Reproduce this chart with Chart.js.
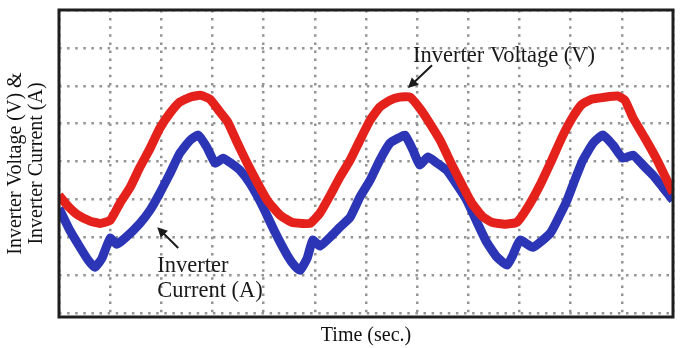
<!DOCTYPE html>
<html>
<head>
<meta charset="utf-8">
<script src="https://cdn.jsdelivr.net/npm/chart.js@4.4.1/dist/chart.umd.min.js"></script>
<style>
  html, body { margin: 0; padding: 0; background: #fff; }
  #wrap { width: 683px; height: 348px; }
</style>
</head>
<body>
<div id="wrap"><canvas id="scope"></canvas></div>
<script>
// time in grid divisions, amplitude in grid divisions
const voltageTime = [0, 0.18, 0.37, 0.61, 0.80, 1.00, 1.19, 1.39, 1.58, 1.78, 1.97, 2.17, 2.36, 2.56, 2.76, 2.95, 3.15, 3.30, 3.48, 3.67, 3.87, 4.08, 4.32, 4.55, 4.75, 4.91, 5.10, 5.30, 5.49, 5.69, 5.88, 6.08, 6.27, 6.47, 6.66, 6.86, 7.05, 7.21, 7.45, 7.68, 7.88, 8.07, 8.27, 8.46, 8.72, 8.95, 9.15, 9.40, 9.63, 9.83, 10.03, 10.22, 10.42, 10.67, 10.92, 11.06, 11.22, 11.45, 11.69, 11.88, 12.00];
const voltage = [3.11, 2.82, 2.59, 2.43, 2.37, 2.45, 2.90, 3.32, 3.85, 4.35, 4.88, 5.28, 5.57, 5.70, 5.75, 5.65, 5.30, 5.04, 4.51, 3.98, 3.46, 2.96, 2.59, 2.40, 2.37, 2.37, 2.64, 3.11, 3.59, 4.04, 4.56, 5.09, 5.44, 5.62, 5.70, 5.70, 5.41, 5.09, 4.56, 3.91, 3.38, 2.90, 2.56, 2.40, 2.35, 2.40, 2.77, 3.38, 4.04, 4.64, 5.15, 5.51, 5.65, 5.70, 5.73, 5.62, 5.15, 4.62, 4.04, 3.51, 3.17];

const currentTime = [0, 0.21, 0.41, 0.57, 0.70, 0.84, 1.00, 1.13, 1.29, 1.58, 1.78, 1.97, 2.17, 2.36, 2.56, 2.72, 2.89, 3.05, 3.21, 3.34, 3.54, 3.73, 3.97, 4.22, 4.46, 4.61, 4.71, 4.85, 4.96, 5.10, 5.34, 5.49, 5.69, 5.88, 6.08, 6.27, 6.47, 6.66, 6.76, 6.92, 7.05, 7.21, 7.39, 7.58, 7.78, 7.97, 8.17, 8.36, 8.56, 8.76, 8.87, 9.01, 9.26, 9.60, 9.79, 9.93, 10.08, 10.24, 10.44, 10.63, 10.83, 11.02, 11.22, 11.41, 11.61, 11.80, 12.00];
const current = [2.77, 2.19, 1.74, 1.40, 1.21, 1.45, 1.98, 1.82, 1.98, 2.37, 2.72, 3.17, 3.69, 4.22, 4.56, 4.70, 4.38, 3.96, 4.09, 3.98, 3.77, 3.43, 2.85, 2.14, 1.53, 1.24, 1.13, 1.45, 1.93, 1.77, 2.06, 2.27, 2.53, 3.06, 3.51, 4.04, 4.49, 4.64, 4.70, 4.30, 3.91, 4.12, 3.96, 3.77, 3.38, 2.98, 2.40, 1.87, 1.48, 1.27, 1.53, 1.93, 1.74, 2.11, 2.59, 2.98, 3.51, 4.04, 4.49, 4.70, 4.43, 4.09, 4.17, 3.91, 3.64, 3.32, 2.98];

const xDivisions = [0, 1, 2, 3, 4, 5, 6, 7, 8, 9, 10, 11, 12];
const yDivisions = [0, 1, 2, 3, 4, 5, 6, 7, 8];

// callouts in data units (text anchor = first line baseline, left aligned)
const callouts = [
  { lines: ['Inverter Voltage (V)'], tx: 6.92, ty: 6.62, tail: [7.29, 6.54], tip: [6.82, 5.94] },
  { lines: ['Inverter', 'Current (A)'], tx: 1.92, ty: 1.08, tail: [2.33, 1.72], tip: [1.92, 2.27] }
];

const serif = '"Liberation Serif", "Times New Roman", serif';

function pairs(xs, ys) { return xs.map((x, i) => ({ x: x, y: ys[i] })); }

const framePlugin = {
  id: 'frame',
  afterDatasetsDraw(chart) {
    const { ctx, chartArea: a, scales } = chart;
    ctx.save();
    ctx.strokeStyle = '#1e1e1e';
    ctx.lineWidth = 3;
    ctx.strokeRect(a.left, a.top, a.right - a.left, a.bottom - a.top);

    ctx.fillStyle = '#1a1a1a';
    ctx.strokeStyle = '#1a1a1a';
    ctx.font = '22.5px ' + serif;
    ctx.textBaseline = 'alphabetic';
    callouts.forEach(c => {
      const x = scales.x.getPixelForValue(c.tx);
      const y = scales.y.getPixelForValue(c.ty);
      c.lines.forEach((t, i) => ctx.fillText(t, x, y + i * 25));
      const x0 = scales.x.getPixelForValue(c.tail[0]), y0 = scales.y.getPixelForValue(c.tail[1]);
      const x1 = scales.x.getPixelForValue(c.tip[0]), y1 = scales.y.getPixelForValue(c.tip[1]);
      const ang = Math.atan2(y1 - y0, x1 - x0);
      ctx.lineWidth = 2;
      ctx.beginPath();
      ctx.moveTo(x0, y0);
      ctx.lineTo(x1 - 6 * Math.cos(ang), y1 - 6 * Math.sin(ang));
      ctx.stroke();
      ctx.beginPath();
      ctx.moveTo(x1, y1);
      ctx.lineTo(x1 - 10 * Math.cos(ang) + 5 * Math.sin(ang), y1 - 10 * Math.sin(ang) - 5 * Math.cos(ang));
      ctx.lineTo(x1 - 10 * Math.cos(ang) - 5 * Math.sin(ang), y1 - 10 * Math.sin(ang) + 5 * Math.cos(ang));
      ctx.closePath();
      ctx.fill();
    });
    ctx.restore();
  }
};

new Chart(document.getElementById('scope'), {
  type: 'line',
  data: {
    datasets: [
      { label: 'Inverter Voltage (V)', data: pairs(voltageTime, voltage), borderColor: '#e5211c', borderWidth: 9, pointRadius: 0, tension: 0.15, fill: false },
      { label: 'Inverter Current (A)', data: pairs(currentTime, current), borderColor: '#2b35b5', borderWidth: 9, pointRadius: 0, tension: 0.15, fill: false }
    ]
  },
  options: {
    responsive: true,
    maintainAspectRatio: false,
    animation: false,
    layout: { padding: { top: 10, right: 10, left: 0, bottom: 0 } },
    plugins: { legend: { display: false }, tooltip: { enabled: false } },
    scales: {
      x: {
        type: 'linear', min: 0, max: 12,
        afterBuildTicks: s => { s.ticks = xDivisions.map(v => ({ value: v })); },
        afterFit: s => { s.height = 31; },
        ticks: { display: false },
        border: { display: false, dash: [2.5, 5.6] },
        grid: { color: '#949494', lineWidth: 2.5, drawTicks: false },
        title: { display: true, text: 'Time (sec.)', color: '#111', font: { family: serif, size: 20 }, padding: { top: 3, bottom: 0 } }
      },
      y: {
        min: -0.1, max: 8,
        afterBuildTicks: s => { s.ticks = yDivisions.map(v => ({ value: v })); },
        afterFit: s => { s.width = 59; },
        ticks: { display: false },
        border: { display: false, dash: [2.5, 5.6] },
        grid: { color: '#949494', lineWidth: 2.5, drawTicks: false },
        title: { display: true, text: ['Inverter Voltage (V) &', 'Inverter Current (A)'], color: '#111', font: { family: serif, size: 20, lineHeight: 1.05 }, padding: { top: 5, bottom: 0 } }
      }
    }
  },
  plugins: [framePlugin]
});
</script>
</body>
</html>
